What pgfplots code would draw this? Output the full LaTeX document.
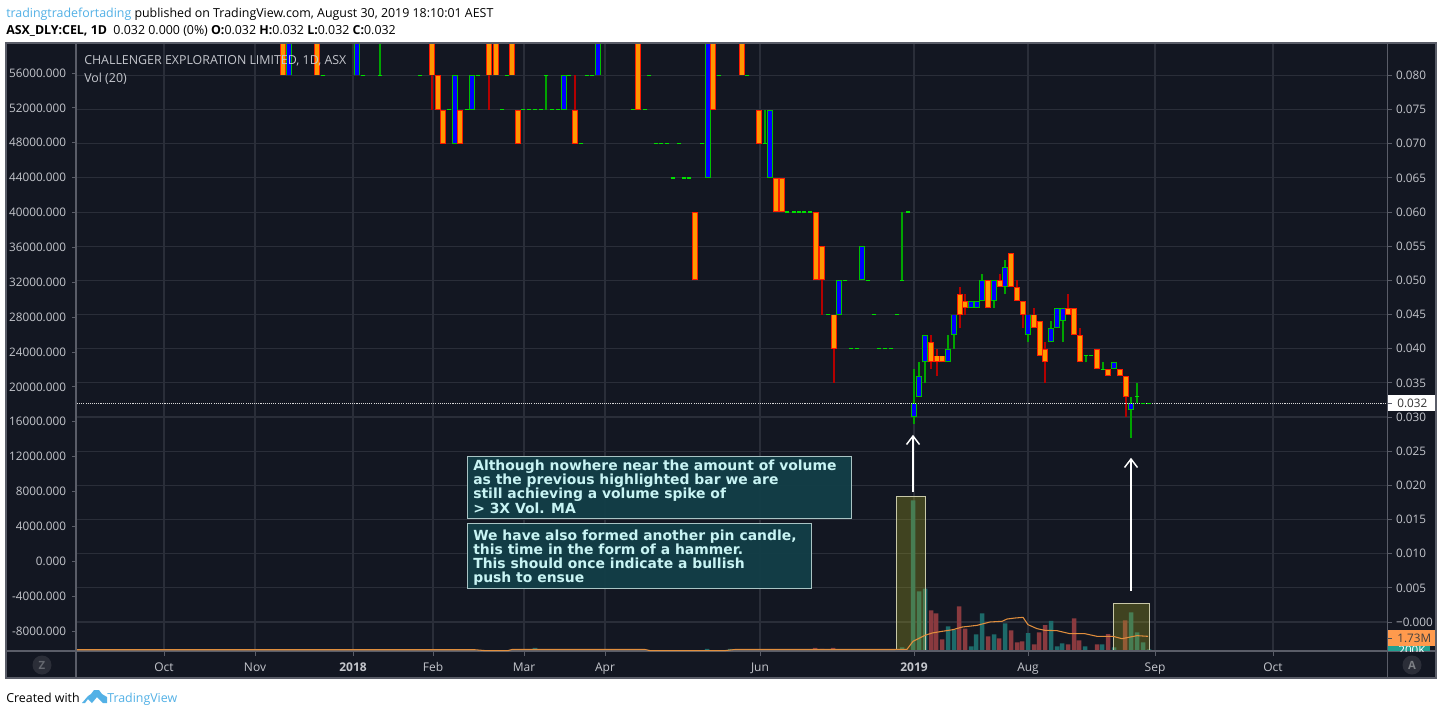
\documentclass[border=0pt]{standalone}
\usepackage{pgfplots}
\usepackage{pgfplotstable}
\usepackage{fontspec}
\pgfplotsset{compat=1.18}
\setmainfont{Open Sans}
\newfontfamily\notefont{DejaVu Sans}
\definecolor{panel}{HTML}{131722}
\definecolor{gridc}{HTML}{2A2E39}
\definecolor{framec}{HTML}{5A5D68}
\definecolor{labelc}{HTML}{C4C6CC}
\definecolor{upb}{HTML}{00C000}
\definecolor{upf}{HTML}{0000FF}
\definecolor{dnb}{HTML}{FF1A00}
\definecolor{dnf}{HTML}{FF9800}
\definecolor{upw}{HTML}{00A400}
\definecolor{dnw}{HTML}{B40000}
\definecolor{dojic}{HTML}{00E000}
\definecolor{volr}{HTML}{8A3A3F}
\definecolor{volt}{HTML}{1D6A6A}
\definecolor{mac}{HTML}{E08E3D}
\definecolor{tvblue}{HTML}{53B1E6}
\definecolor{notefill}{HTML}{123F48}
\definecolor{noteedge}{HTML}{A9C4C4}
\definecolor{notetext}{HTML}{C8F4F4}
\definecolor{hilite}{HTML}{AAAA1E}
\definecolor{hiedge}{HTML}{C8C8A8}
\definecolor{tagorange}{HTML}{FF9A4D}
\definecolor{tagteal}{HTML}{22A091}

% x = horizontal position on the time scale, prices as read from the right-hand scale
\pgfplotstableread{
x o h l c
289 .080 .085 .080 .085
357 .080 .085 .080 .085
455 .070 .080 .070 .080
472 .075 .080 .075 .080
564 .075 .080 .075 .080
598 .080 .085 .080 .085
708 .065 .085 .065 .085
770 .065 .075 .065 .075
839 .045 .050 .045 .050
862 .050 .055 .050 .055
914 .030 .037 .029 .032
919 .033 .038 .033 .036
925 .038 .042 .035 .042
948 .038 .042 .038 .040
954 .042 .045 .040 .045
971 .046 .047 .046 .047
977 .046 .047 .046 .047
982 .047 .051 .047 .050
994 .047 .050 .046 .050
1005 .049 .053 .048 .052
1028 .042 .045 .041 .045
1051 .041 .044 .041 .043
1057 .043 .046 .043 .046
1063 .044 .046 .041 .046
1114 .037 .038 .037 .038
1131 .031 .033 .027 .032
}\upcandles
\pgfplotstableread{
x o h l c
283 .085 .085 .080 .080
317 .085 .085 .080 .080
432 .085 .085 .075 .080
438 .080 .080 .075 .075
443 .075 .075 .070 .070
460 .075 .075 .070 .070
489 .085 .085 .075 .080
496 .085 .085 .080 .080
512 .085 .085 .080 .080
518 .075 .075 .070 .070
575 .075 .080 .070 .070
638 .085 .085 .075 .075
695 .060 .060 .050 .050
713 .085 .085 .075 .075
742 .085 .085 .080 .080
759 .075 .075 .070 .070
776 .065 .065 .060 .060
782 .065 .065 .060 .060
816 .060 .060 .050 .050
822 .055 .055 .045 .050
834 .045 .045 .035 .040
931 .041 .042 .037 .038
937 .039 .040 .036 .038
942 .039 .039 .038 .038
960 .048 .049 .043 .045
965 .047 .048 .045 .046
988 .050 .050 .046 .046
1000 .050 .051 .049 .049
1011 .054 .054 .049 .049
1017 .049 .050 .047 .047
1023 .047 .047 .043 .045
1034 .045 .046 .043 .043
1040 .044 .044 .039 .039
1045 .040 .041 .035 .038
1068 .046 .048 .045 .045
1074 .046 .046 .042 .042
1080 .042 .043 .038 .038
1097 .040 .040 .037 .037
1108 .037 .037 .036 .036
1120 .037 .037 .036 .036
1126 .036 .036 .030 .033
}\downcandles
\pgfplotstableread{
x o h l
323 .080 .080 .080
363 .080 .080 .080
380 .080 .085 .080
420 .080 .080 .080
449 .075 .075 .075
467 .075 .075 .075
478 .080 .080 .080
502 .075 .075 .075
507 .080 .080 .080
523 .075 .075 .075
529 .075 .075 .075
535 .075 .075 .075
541 .075 .075 .075
546 .080 .080 .075
552 .075 .075 .075
558 .075 .075 .075
569 .080 .080 .080
581 .070 .070 .070
587 .080 .080 .080
592 .080 .080 .080
633 .075 .075 .075
645 .075 .075 .075
649 .080 .080 .080
656 .070 .070 .070
661 .070 .070 .070
667 .070 .070 .070
673 .065 .065 .065
679 .070 .070 .070
684 .065 .065 .065
689 .065 .065 .065
702 .070 .070 .070
719 .080 .080 .080
747 .080 .080 .080
765 .070 .075 .070
787 .060 .060 .060
794 .060 .060 .060
799 .060 .060 .060
804 .060 .060 .060
810 .060 .060 .060
828 .045 .045 .045
845 .050 .050 .050
851 .040 .040 .040
857 .040 .040 .040
868 .050 .050 .050
874 .045 .045 .045
879 .040 .040 .040
885 .040 .040 .040
891 .040 .040 .040
897 .045 .045 .045
902 .050 .060 .050
908 .060 .060 .060
1086 .039 .039 .038
1091 .039 .039 .039
1103 .037 .038 .037
1137 .033 .035 .032
1143 .032 .032 .032
1149 .032 .032 .032
}\dojis
% volume in millions
\pgfplotstableread{
x v
535 .36
707 .24
730 .24
902 .43
913 17.85
919 7.07
925 7.39
948 2.92
954 2.53
971 .55
976 1.98
982 4.46
994 1.98
1005 3.28
1028 2.13
1051 3.56
1057 .55
1062 .91
1085 .55
1102 .79
1114 .43
1131 4.58
1137 2.21
1143 1.03
1149 .20
}\volup
\pgfplotstableread{
x v
815 .36
822 .24
833 .36
931 4.82
936 4.46
942 1.38
959 5.29
965 2.65
988 1.74
999 1.50
1011 2.45
1017 1.03
1022 1.15
1034 .79
1039 2.21
1045 3.08
1068 .79
1074 3.87
1079 1.26
1097 .79
1108 2.01
1125 3.63
}\voldown
\pgfplotstableread{
x v
77 .15
475 .15
485 .05
508 .05
512 .18
645 .18
650 .05
725 .05
735 .18
893 .18
907 .20
913 1.15
925 1.86
932 2.13
942 2.33
953 2.53
962 2.84
977 3.04
990 3.44
1002 3.52
1007 3.79
1015 3.91
1023 3.99
1028 3.12
1037 2.65
1045 2.45
1057 2.41
1070 2.05
1085 2.05
1097 1.74
1113 1.74
1122 1.46
1137 1.82
1148 1.74
}\volma

\pgfplotsset{
  candlebar/.style 2 args={no markers, draw=none, forget plot,
    error bars/y dir=plus, error bars/y explicit, error bars/error mark=none,
    error bars/error bar style={line width=#1, draw=#2, solid}},
  base/.style={scale only axis, width=982.5pt, height=456pt,
    at={(57.75pt,-488.25pt)}, anchor=south west,
    xmin=77, xmax=1387, clip=true, scaled ticks=false},
}

\begin{document}
\begin{tikzpicture}
\path[use as bounding box] (0,0) rectangle (1083pt,-536.25pt);
\fill[white] (0,0) rectangle (1083pt,-536.25pt);
\begin{scope}[x=0.75pt,y=-0.75pt]
  \fill[panel] (6,43) rectangle (1436,678);
\end{scope}

% price pane
\begin{axis}[base,
  ymin=-0.004245, ymax=0.084748,
  axis x line*=bottom, axis y line*=right,
  axis line style={draw=none},
  tick align=outside, major tick length=3.75pt,
  tick style={draw=framec, line width=0.75pt},
  grid=major, grid style={draw=gridc, line width=0.85pt},
  xtick={164,255,353,433,524,605,760,914,1028,1155,1273},
  xticklabels={Oct,Nov,\textbf{2018},Feb,Mar,Apr,Jun,\textbf{2019},Aug,Sep,Oct},
  xticklabel style={font=\fontsize{9}{9}\selectfont, text=labelc, yshift=-1.5pt},
  ytick={0,.005,.01,.015,.02,.025,.03,.035,.04,.045,.05,.055,.06,.065,.07,.075,.08},
  yticklabels={−0.000,0.005,0.010,0.015,0.020,0.025,0.030,0.035,0.040,0.045,0.050,0.055,0.060,0.065,0.070,0.075,0.080},
  yticklabel style={font=\fontsize{8.8}{8.8}\selectfont, text=labelc, xshift=-0.5pt},
]
\addplot[candlebar={0.8pt}{upw}] table[x=x,y=l,y error plus expr=\thisrow{h}-\thisrow{l}] {\dojis};
\addplot[candlebar={0.8pt}{upw}] table[x=x,y=l,y error plus expr=\thisrow{h}-\thisrow{l}] {\upcandles};
\addplot[candlebar={0.8pt}{dnw}] table[x=x,y=l,y error plus expr=\thisrow{h}-\thisrow{l}] {\downcandles};
\addplot[only marks, mark=-, mark size=1.7pt, mark options={draw=dojic, line width=1pt}, forget plot] table[x=x,y=o] {\dojis};
\addplot[candlebar={3.9pt}{upb}] table[x=x,y=o,y error plus expr=\thisrow{c}-\thisrow{o}] {\upcandles};
\addplot[candlebar={3.9pt}{dnb}] table[x=x,y=c,y error plus expr=\thisrow{o}-\thisrow{c}] {\downcandles};
\addplot[candlebar={2.5pt}{upf}, error bars/error bar style={shorten >=0.7pt, shorten <=0.7pt}] table[x=x,y=o,y error plus expr=\thisrow{c}-\thisrow{o}] {\upcandles};
\addplot[candlebar={2.5pt}{dnf}, error bars/error bar style={shorten >=0.7pt, shorten <=0.7pt}] table[x=x,y=c,y error plus expr=\thisrow{o}-\thisrow{c}] {\downcandles};
\addplot[draw=white!85!black, line width=0.8pt, dash pattern=on 0.8pt off 0.8pt, forget plot] coordinates {(77,.032) (1387,.032)};
\end{axis}

% volume pane
\begin{axis}[base,
  ymin=0, ymax=72.05, hide axis]
\addplot[ybar, bar width=3.4pt, bar shift=0pt, fill=volt, draw=none, forget plot] table[x=x,y=v] {\volup};
\addplot[ybar, bar width=3.4pt, bar shift=0pt, fill=volr, draw=none, forget plot] table[x=x,y=v] {\voldown};
\end{axis}

% left-hand scale labels
\begin{axis}[base,
  ymin=-10294, ymax=59441,
  axis x line=none, axis y line*=left,
  axis line style={draw=none},
  tick align=outside, major tick length=3.75pt,
  tick style={draw=framec, line width=0.75pt},
  ytick={-8000,-4000,0,4000,8000,12000,16000,20000,24000,28000,32000,36000,40000,44000,48000,52000,56000},
  yticklabels={-8000.000,-4000.000,0.000,4000.000,8000.000,12000.000,16000.000,20000.000,24000.000,28000.000,32000.000,36000.000,40000.000,44000.000,48000.000,52000.000,56000.000},
  yticklabel style={font=\fontsize{8.8}{8.8}\selectfont, text=labelc, xshift=-1pt},
]
\end{axis}

\begin{scope}[x=0.75pt,y=-0.75pt]
  % highlighted volume bars
  \fill[hilite, fill opacity=0.3] (896,496) rectangle (925,651);
  \draw[draw=hiedge, line width=0.75pt] (896,496) rectangle (925,651);
  \fill[hilite, fill opacity=0.3] (1113,603) rectangle (1149,651);
  \draw[draw=hiedge, line width=0.75pt] (1113,603) rectangle (1149,651);
  % arrows
  \draw[white, line width=1.1pt] (913,492) -- (913,436);
  \draw[white, line width=1.1pt] (906.5,444.5) -- (913,436) -- (919.5,444.5);
  \draw[white, line width=1.1pt] (1131,591) -- (1131,459);
  \draw[white, line width=1.1pt] (1124.5,467.5) -- (1131,459) -- (1137.5,467.5);
  % notes
  \fill[notefill, fill opacity=0.93] (467,456) rectangle (851,518);
  \draw[noteedge, line width=0.7pt] (467,456) rectangle (851,518);
  \fill[notefill, fill opacity=0.93] (467,523) rectangle (811,588);
  \draw[noteedge, line width=0.7pt] (467,523) rectangle (811,588);
  \foreach \y/\t in {470.5/Although nowhere near the amount of volume,484.5/as the previous highlighted bar we are,498.5/still achieving a volume spike of,513/{> 3X Vol. MA},540.5/{We have also formed another pin candle,},554/this time in the form of a hammer.,568/This should once indicate a bullish,582.5/push to ensue}
    \node[anchor=base west, inner sep=0, text=notetext, font=\notefont\bfseries\fontsize{10.45}{10.5}\selectfont] at (473,\y) {\t};
  % frame
  \draw[framec, line width=1pt] (6,43) rectangle (1436,678);
  \draw[framec, line width=1pt] (76,43) -- (76,678);
  \draw[framec, line width=1pt] (1387.5,43) -- (1387.5,678);
  \draw[framec, line width=1pt] (6,651) -- (1436,651);
\end{scope}

% moving average of volume, above the frame line
\begin{axis}[base, ymin=0, ymax=72.05, hide axis]
\addplot[draw=mac, line width=0.8pt, forget plot] table[x=x,y=v] {\volma};
\end{axis}

\begin{scope}[x=0.75pt,y=-0.75pt]
  % pane titles
  \node[anchor=base west, inner sep=0, text=labelc, font=\fontsize{9.3}{9.3}\selectfont] at (84,64.5) {CHALLENGER EXPLORATION LIMITED, 1D, ASX};
  \node[anchor=base west, inner sep=0, text=labelc, font=\fontsize{9.3}{9.3}\selectfont] at (84,82) {Vol (20)};
  % scale tags
  \fill[white] (1388,395) rectangle (1435,411);
  \draw[framec, line width=0.75pt] (1388,403.4) -- (1392,403.4);
  \node[anchor=base west, inner sep=0, text=black!80, font=\fontsize{8.8}{8.8}\selectfont] at (1397,407.5) {0.032};
  \begin{scope}
    \clip (1388,646) rectangle (1430,651);
    \fill[tagteal] (1388,646) rectangle (1430,651);
    \node[anchor=base west, inner sep=0, text=white, font=\fontsize{8.8}{8.8}\selectfont] at (1398,654) {200K};
  \end{scope}
  \fill[tagorange] (1388,630) rectangle (1435,646);
  \draw[black!70, line width=0.75pt] (1388,638) -- (1392,638);
  \node[anchor=base west, inner sep=0, text=black!75, font=\fontsize{8.8}{8.8}\selectfont] at (1397,642) {1.73M};
  % corner buttons
  \fill[white!10!panel] (42,665) circle (9.5);
  \node[text=white!35!panel, font=\fontsize{8.5}{8.5}\bfseries\selectfont, inner sep=0] at (42,665) {Z};
  \fill[white!10!panel] (1412,665) circle (9.5);
  \node[text=white!45!panel, font=\fontsize{8.5}{8.5}\bfseries\selectfont, inner sep=0] at (1412,665) {A};
  % header and footer
  \node[anchor=base west, inner sep=0, font=\fontsize{9.3}{9.3}\selectfont] at (6,17) {\textcolor{tvblue}{tradingtradefortading} published on TradingView.com, August 30, 2019 18:10:01 AEST};
  \node[anchor=base west, inner sep=0, font=\fontsize{9.3}{9.3}\selectfont] at (6,34) {\textbf{ASX\_DLY:CEL, 1D}\ \ 0.032 0.000 (0\%) \textbf{O:}0.032 \textbf{H:}0.032 \textbf{L:}0.032 \textbf{C:}0.032};
  \node[anchor=base west, inner sep=0, font=\fontsize{9.3}{9.3}\selectfont] at (6,702) {Created with};
  \fill[tvblue] (82,703) -- (88,696) -- (91,694) -- (94,690) -- (99,690) -- (102,694) -- (107,697) -- (107,703) -- (103,703) -- (97,697) -- (92,703) -- (88,699) -- (85,703) -- cycle;
  \node[anchor=base west, inner sep=0, text=tvblue, font=\fontsize{9.3}{9.3}\selectfont] at (107,702) {TradingView};
\end{scope}
\end{tikzpicture}
\end{document}
